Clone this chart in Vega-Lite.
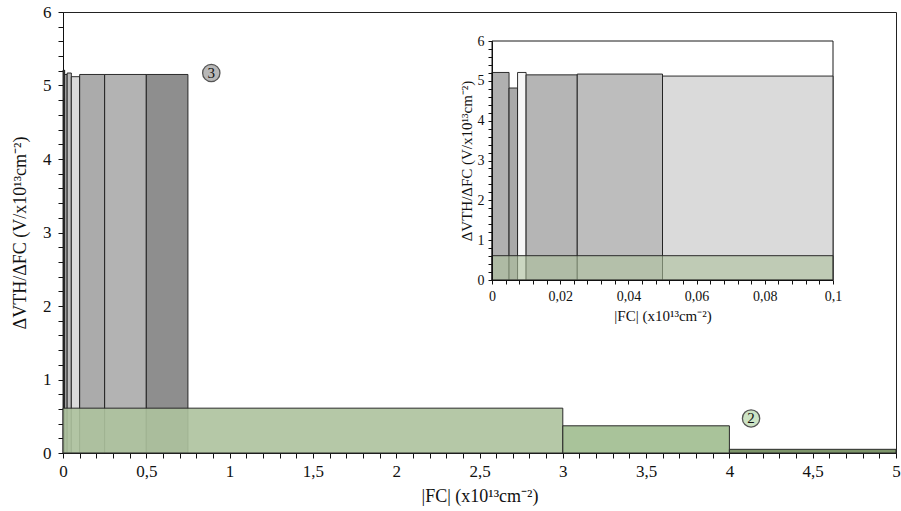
{
  "$schema": "https://vega.github.io/schema/vega-lite/v6.json",
  "width": 833,
  "height": 441,
  "autosize": {"type": "none"},
  "padding": {"left": 63, "top": 12, "right": 5, "bottom": 58},
  "background": "white",
  "config": {
    "view": {"stroke": "#222", "strokeWidth": 1},
    "axis": {"grid": false, "domainColor": "#111", "tickColor": "#111", "labelColor": "#111", "titleColor": "#111", "labelFont": "Liberation Serif", "titleFont": "Liberation Serif", "titleFontWeight": "normal", "labelOverlap": false, "labelFlush": false}
  },
  "datasets": {
    "bars": [
      {"bar": "b1", "kind": "gray", "x0": 0, "x1": 0.005, "v": 5.21},
      {"bar": "b2", "kind": "gray", "x0": 0.005, "x1": 0.0075, "v": 4.82},
      {"bar": "b3", "kind": "gray", "x0": 0.0075, "x1": 0.01, "v": 5.21},
      {"bar": "b4", "kind": "gray", "x0": 0.01, "x1": 0.025, "v": 5.15},
      {"bar": "b5", "kind": "gray", "x0": 0.025, "x1": 0.05, "v": 5.17},
      {"bar": "b6", "kind": "gray", "x0": 0.05, "x1": 0.1, "v": 5.12},
      {"bar": "b7", "kind": "gray", "x0": 0.1, "x1": 0.25, "v": 5.15},
      {"bar": "b8", "kind": "gray", "x0": 0.25, "x1": 0.5, "v": 5.15},
      {"bar": "b9", "kind": "gray", "x0": 0.5, "x1": 0.75, "v": 5.15},
      {"bar": "g1", "kind": "green", "x0": 0, "x1": 3, "v": 0.61},
      {"bar": "g2", "kind": "green", "x0": 3, "x1": 4, "v": 0.37},
      {"bar": "g3", "kind": "green", "x0": 4, "x1": 5, "v": 0.05}
    ],
    "notes": [
      {"label": "3", "x0": 0.89, "v": 5.17},
      {"label": "2", "x0": 4.13, "v": 0.47}
    ],
    "frame": [
      {"x0": 0, "x1": 0.1, "v": 6}
    ]
  },
  "resolve": {"scale": {"x": "independent", "y": "independent"}, "axis": {"x": "independent", "y": "independent"}},
  "layer": [
    {
      "encoding": {
        "x": {"field": "x0", "type": "quantitative",
          "scale": {"domain": [0, 5], "nice": false, "zero": false},
          "axis": {"orient": "bottom", "title": "|FC|  (x10¹³cm⁻²)", "titleFontSize": 18, "titlePadding": 8, "labelFontSize": 17, "labelPadding": 5, "tickSize": 5,
            "values": [0,0.1,0.2,0.3,0.4,0.5,0.6,0.7,0.8,0.9,1,1.1,1.2,1.3,1.4,1.5,1.6,1.7,1.8,1.9,2,2.1,2.2,2.3,2.4,2.5,2.6,2.7,2.8,2.9,3,3.1,3.2,3.3,3.4,3.5,3.6,3.7,3.8,3.9,4,4.1,4.2,4.3,4.4,4.5,4.6,4.7,4.8,4.9,5],
            "labelExpr": "abs(datum.value*2-round(datum.value*2))<0.001 ? replace(toString(datum.value),'.',',') : ''"}},
        "y": {"field": "v", "type": "quantitative",
          "scale": {"domain": [0, 6], "nice": false, "zero": false},
          "axis": {"orient": "left", "title": "ΔVTH/ΔFC (V/x10¹³cm⁻²)", "titleFontSize": 18, "titlePadding": 13, "labelFontSize": 17, "labelPadding": 7, "tickSize": 5,
            "values": [0,0.2,0.4,0.6,0.8,1,1.2,1.4,1.6,1.8,2,2.2,2.4,2.6,2.8,3,3.2,3.4,3.6,3.8,4,4.2,4.4,4.6,4.8,5,5.2,5.4,5.6,5.8,6],
            "labelExpr": "abs(datum.value-round(datum.value))<0.001 ? toString(datum.value) : ''"}}
      },
      "layer": [
        {
          "data": {"name": "bars"},
          "transform": [{"filter": "datum.kind == 'gray'"}],
          "mark": {"type": "rect", "stroke": "#1a1a1a", "strokeWidth": 0.9},
          "encoding": {
            "x2": {"field": "x1"},
            "y2": {"datum": 0},
            "color": {"field": "bar", "type": "nominal", "legend": null,
              "scale": {"domain": ["b1","b2","b3","b4","b5","b6","b7","b8","b9","g1","g2","g3"],
                        "range": ["#b0b0b0","#a9a9a9","#f7f7f7","#b5b5b5","#bdbdbd","#dadada","#ababab","#b3b3b3","#8e8e8e","#adc29d","#a0bd8f","#6f8a5a"]}}
          }
        },
        {
          "data": {"name": "bars"},
          "transform": [{"filter": "datum.kind == 'green'"}],
          "mark": {"type": "rect", "stroke": "#2a2a2a", "strokeWidth": 1, "fillOpacity": 0.9},
          "encoding": {
            "x2": {"field": "x1"},
            "y2": {"datum": 0},
            "color": {"field": "bar", "type": "nominal", "legend": null,
              "scale": {"domain": ["b1","b2","b3","b4","b5","b6","b7","b8","b9","g1","g2","g3"],
                        "range": ["#b0b0b0","#a9a9a9","#f7f7f7","#b5b5b5","#bdbdbd","#dadada","#ababab","#b3b3b3","#8e8e8e","#adc29d","#a0bd8f","#6f8a5a"]}}
          }
        },
        {
          "data": {"name": "notes"},
          "mark": {"type": "point", "shape": "circle", "filled": true, "size": 300, "stroke": "#555", "strokeWidth": 1.3, "opacity": 1},
          "encoding": {
            "fill": {"field": "label", "type": "nominal", "legend": null,
              "scale": {"domain": ["3", "2"], "range": ["#b8b8b8", "#cde3c4"]}}
          }
        },
        {
          "data": {"name": "notes"},
          "mark": {"type": "text", "font": "Liberation Serif", "fontSize": 15, "color": "#111", "baseline": "middle", "align": "center"},
          "encoding": {"text": {"field": "label"}}
        }
      ]
    },
    {
      "encoding": {
        "x": {"field": "x0", "type": "quantitative",
          "scale": {"domain": [0, 0.1], "range": [429, 770], "nice": false, "zero": false, "clamp": true},
          "axis": {"orient": "bottom", "offset": -173, "zindex": 1, "title": "|FC|  (x10¹³cm⁻²)", "titleFontSize": 15, "titlePadding": 5, "labelFontSize": 14, "labelPadding": 5, "tickSize": 4,
            "values": [0,0.004,0.008,0.012,0.016,0.02,0.024,0.028,0.032,0.036,0.04,0.044,0.048,0.052,0.056,0.06,0.064,0.068,0.072,0.076,0.08,0.084,0.088,0.092,0.096,0.1],
            "labelExpr": "abs(datum.value*50-round(datum.value*50))<0.001 ? replace(toString(datum.value),'.',',') : ''"}},
        "y": {"field": "v", "type": "quantitative",
          "scale": {"domain": [0, 6], "range": [268, 29], "nice": false, "zero": false},
          "axis": {"orient": "left", "offset": -429, "zindex": 1, "title": "ΔVTH/ΔFC (V/x10¹³cm⁻²)", "titleFontSize": 15, "titlePadding": 3, "labelFontSize": 14, "labelPadding": 4, "tickSize": 4,
            "values": [0,0.2,0.4,0.6,0.8,1,1.2,1.4,1.6,1.8,2,2.2,2.4,2.6,2.8,3,3.2,3.4,3.6,3.8,4,4.2,4.4,4.6,4.8,5,5.2,5.4,5.6,5.8,6],
            "labelExpr": "abs(datum.value-round(datum.value))<0.001 ? toString(datum.value) : ''"}}
      },
      "layer": [
        {
          "data": {"name": "frame"},
          "mark": {"type": "rect", "fill": "white", "stroke": "#1a1a1a", "strokeWidth": 1},
          "encoding": {"x2": {"field": "x1"}, "y2": {"datum": 0}}
        },
        {
          "data": {"name": "bars"},
          "transform": [{"filter": "datum.kind == 'gray' && datum.x0 < 0.1"}],
          "mark": {"type": "rect", "stroke": "#1a1a1a", "strokeWidth": 0.9},
          "encoding": {
            "x2": {"field": "x1"},
            "y2": {"datum": 0},
            "color": {"field": "bar", "type": "nominal", "legend": null,
              "scale": {"domain": ["b1","b2","b3","b4","b5","b6","b7","b8","b9","g1","g2","g3"],
                        "range": ["#b0b0b0","#a9a9a9","#f7f7f7","#b5b5b5","#bdbdbd","#dadada","#ababab","#b3b3b3","#8e8e8e","#adc29d","#a0bd8f","#6f8a5a"]}}
          }
        },
        {
          "data": {"name": "bars"},
          "transform": [{"filter": "datum.kind == 'green' && datum.x0 < 0.1"}],
          "mark": {"type": "rect", "stroke": "#2a2a2a", "strokeWidth": 1, "fillOpacity": 0.6},
          "encoding": {
            "x2": {"field": "x1"},
            "y2": {"datum": 0},
            "color": {"field": "bar", "type": "nominal", "legend": null,
              "scale": {"domain": ["b1","b2","b3","b4","b5","b6","b7","b8","b9","g1","g2","g3"],
                        "range": ["#b0b0b0","#a9a9a9","#f7f7f7","#b5b5b5","#bdbdbd","#dadada","#ababab","#b3b3b3","#8e8e8e","#adc29d","#a0bd8f","#6f8a5a"]}}
          }
        }
      ]
    }
  ]
}
